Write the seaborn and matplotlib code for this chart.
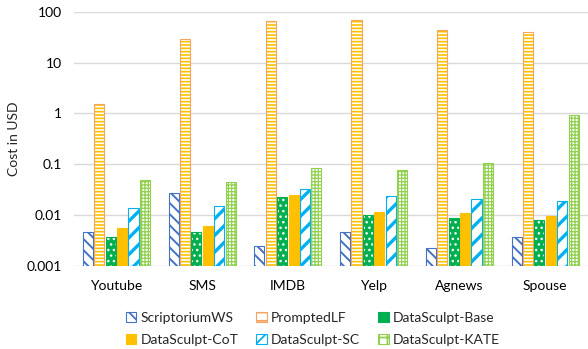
import matplotlib
matplotlib.use("Agg")
import matplotlib.pyplot as plt
import matplotlib.ticker as mticker
from matplotlib.patches import Patch
import numpy as np
import pandas as pd
import seaborn as sns

datasets = ["Youtube", "SMS", "IMDB", "Yelp", "Agnews", "Spouse"]
methods = ["ScriptoriumWS", "PromptedLF", "DataSculpt-Base",
           "DataSculpt-CoT", "DataSculpt-SC", "DataSculpt-KATE"]

scriptorium_ws = [0.0047, 0.027, 0.0025, 0.0046, 0.0023, 0.0037]
prompted_lf = [1.52, 28.6, 67.6, 70.6, 43.0, 40.0]
datasculpt_base = [0.0037, 0.0046, 0.0232, 0.0100, 0.0086, 0.0079]
datasculpt_cot = [0.0055, 0.0062, 0.0254, 0.0115, 0.0111, 0.0097]
datasculpt_sc = [0.0141, 0.0148, 0.0334, 0.0243, 0.0209, 0.0188]
datasculpt_kate = [0.050, 0.0457, 0.0847, 0.076, 0.104, 0.94]

ytick_labels = ["0.001", "0.01", "0.1", "1", "10", "100"]

series = [scriptorium_ws, prompted_lf, datasculpt_base,
          datasculpt_cot, datasculpt_sc, datasculpt_kate]
df = pd.DataFrame(
    [(d, m, v) for m, vals in zip(methods, series) for d, v in zip(datasets, vals)],
    columns=["dataset", "method", "cost"],
)

# face, hatch colour, hatch pattern, border, hatch line width
styles = {
    "ScriptoriumWS": ("white", "#4472C4", "\\\\\\", "#4472C4", 1.4),
    "PromptedLF": ("white", "#FFC000", "-----", "#F4A460", 1.2),
    "DataSculpt-Base": ("#00B050", "white", "...", "#00B050", 1.0),
    "DataSculpt-CoT": ("#FFC000", "#FFC000", "", "#FFC000", 1.0),
    "DataSculpt-SC": ("white", "#00B0F0", "//", "#00B0F0", 2.4),
    "DataSculpt-KATE": ("white", "#92D050", "+++++", "#92D050", 0.9),
}

BASELINE = 0.001

sns.set_theme(style="white")
plt.rcParams["font.family"] = ["Lato", "DejaVu Sans"]
plt.rcParams["hatch.linewidth"] = 1.3


def style_patch(p, m):
    face, hcol, hatch, border, hlw = styles[m]
    p.set_facecolor(face)
    p.set_edgecolor(hcol)
    p.set_hatch(hatch)
    if hasattr(p, "set_hatch_linewidth"):
        p.set_hatch_linewidth(hlw)


fig = plt.figure(figsize=(5.88, 3.49), dpi=100)
ax = fig.add_axes([0.125, 0.238, 0.875, 0.728])
ax.set_yscale("log")

sns.barplot(data=df, x="dataset", y="cost", hue="method", hue_order=methods,
            order=datasets, ax=ax, width=0.8, gap=0.12,
            legend=False, errorbar=None)

for container, m in zip(ax.containers, methods):
    border = styles[m][3]
    for bar in container:
        # start every bar at the bottom of the log axis
        top = bar.get_y() + bar.get_height()
        bar.set_y(BASELINE)
        bar.set_height(top - BASELINE)
        style_patch(bar, m)
        bar.set_linewidth(0 if m in ("DataSculpt-Base", "PromptedLF") else 0.8)
        if m in ("PromptedLF", "DataSculpt-Base"):
            ax.add_patch(plt.Rectangle(bar.get_xy(), bar.get_width(), bar.get_height(),
                                       fill=False, edgecolor=border, linewidth=0.8,
                                       zorder=bar.get_zorder() + 0.1))

ax.set_ylim(0.001, 100)
ax.set_xlim(-0.5, 5.5)
ax.yaxis.set_major_locator(mticker.FixedLocator([0.001, 0.01, 0.1, 1, 10, 100]))
ax.yaxis.set_minor_locator(mticker.NullLocator())
ax.set_yticklabels(ytick_labels)
ax.grid(axis="y", color="#D9D9D9", linewidth=1)
ax.set_axisbelow(True)
for s in ax.spines.values():
    s.set_visible(False)
ax.tick_params(axis="x", length=0, labelsize=10, colors="#000000", pad=10)
ax.tick_params(axis="y", length=0, labelsize=10, colors="#000000", pad=8)
ax.set_xlabel("")
ax.set_ylabel("Cost in USD", fontsize=10, labelpad=5)

handles = []
for m in methods:
    face, hcol, hatch, border, hlw = styles[m]
    h = Patch(facecolor=face, edgecolor=border, label=m, linewidth=0.8,
              hatch=hatch[:2] if hatch else "")
    handles.append(h)
# row-wise order for a 3-column legend
order = [0, 3, 1, 4, 2, 5]
fig.legend(handles=[handles[i] for i in order], loc="upper center",
           bbox_to_anchor=(0.532, 0.142),
           ncol=3, frameon=False, fontsize=10, handlelength=0.75, handleheight=0.75,
           handletextpad=0.3, columnspacing=1.3, labelspacing=0.7)

fig.savefig("out.png", dpi=100)
